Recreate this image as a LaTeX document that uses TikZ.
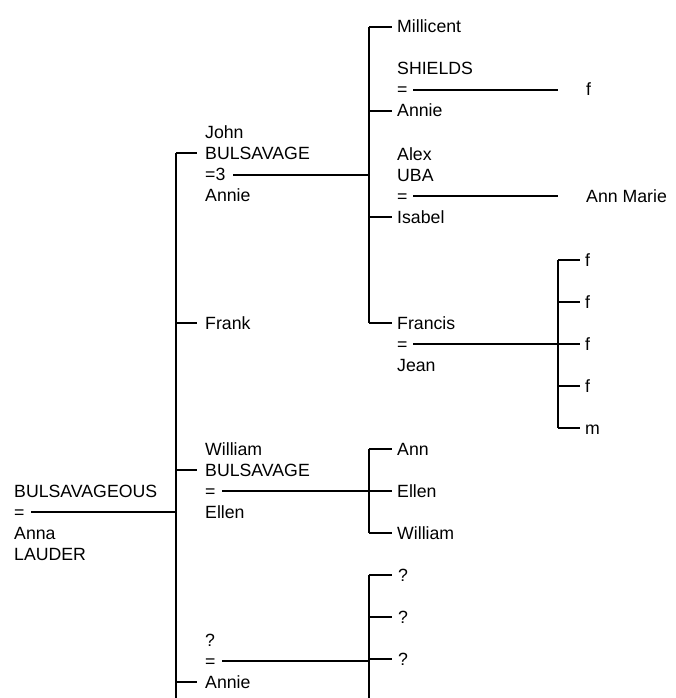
\documentclass[tikz,border=0pt]{standalone}
\usepackage{fontspec}
\setmainfont{Liberation Sans}
\begin{document}
\begin{tikzpicture}[x=1pt,y=-1pt,
  t/.style={anchor=base west,inner sep=0pt,font=\fontsize{17.7}{21}\selectfont},
  ln/.style={line width=1.2pt}]
\useasboundingbox (0,0) rectangle (675,698);
% ---- root couple
\node[t] (r1) at (14,497) {BULSAVAGEOUS};
\node[t] (r2) at (14,518) {=};
\node[t] (r3) at (14,539) {Anna};
\node[t] (r4) at (14,560) {LAUDER};
\coordinate (rm) at (31,512);
\coordinate (b1) at (176,512);
\coordinate (b1top) at (176,153);
\coordinate (b1bot) at (176,698);
\draw[ln] (rm) -- (b1);
\draw[ln] (b1top) -- (b1bot);
% ---- John
\node[t] (j1) at (205,138) {John};
\node[t] (j2) at (205,159) {BULSAVAGE};
\node[t] (j3) at (205,180) {=3};
\node[t] (j4) at (205,201) {Annie};
\coordinate (jc) at (197,153);
\draw[ln] (b1top) -- (jc);
\coordinate (jm) at (233,175);
\coordinate (bA) at (369,175);
\coordinate (bAtop) at (369,27);
\coordinate (bAbot) at (369,323);
\draw[ln] (jm) -- (bA);
\draw[ln] (bAtop) -- (bAbot);
% Millicent
\node[t] (mi) at (397,33) {Millicent};
\coordinate (mic) at (392,27);
\draw[ln] (bAtop) -- (mic);
% Shields / Annie
\node[t] (s1) at (397,75) {SHIELDS};
\node[t] (s2) at (397,96) {=};
\node[t] (s3) at (397,117) {Annie};
\coordinate (sA) at (369,111);
\coordinate (sc) at (392,111);
\draw[ln] (sA) -- (sc);
\coordinate (sm) at (413,90);
\coordinate (sme) at (558,90);
\draw[ln] (sm) -- (sme);
\node[t] (sf) at (586,96) {f};
% Alex / Isabel
\node[t] (a1) at (397,160) {Alex};
\node[t] (a2) at (397,181) {UBA};
\node[t] (a3) at (397,202) {=};
\node[t] (a4) at (397,223) {Isabel};
\coordinate (aA) at (369,217);
\coordinate (ac) at (392,217);
\draw[ln] (aA) -- (ac);
\coordinate (am) at (413,196);
\coordinate (ame) at (558,196);
\draw[ln] (am) -- (ame);
\node[t] (amr) at (586,202) {Ann Marie};
% Francis / Jean
\node[t] (f1) at (397,329) {Francis};
\node[t] (f2) at (397,350) {=};
\node[t] (f3) at (397,371) {Jean};
\coordinate (fc) at (392,323);
\draw[ln] (bAbot) -- (fc);
\coordinate (fm) at (413,344);
\coordinate (bC) at (558,344);
\draw[ln] (fm) -- (bC);
\coordinate (bCtop) at (558,260);
\coordinate (bCbot) at (558,428);
\draw[ln] (bCtop) -- (bCbot);
\coordinate (c1) at (580,260);
\coordinate (c2a) at (558,302); \coordinate (c2) at (580,302);
\coordinate (c3) at (580,344);
\coordinate (c4a) at (558,386); \coordinate (c4) at (580,386);
\coordinate (c5) at (580,428);
\draw[ln] (bCtop) -- (c1);
\draw[ln] (c2a) -- (c2);
\draw[ln] (bC) -- (c3);
\draw[ln] (c4a) -- (c4);
\draw[ln] (bCbot) -- (c5);
\node[t] (k1) at (585,266) {f};
\node[t] (k2) at (585,308) {f};
\node[t] (k3) at (585,350) {f};
\node[t] (k4) at (585,392) {f};
\node[t] (k5) at (585,434) {m};
% ---- Frank
\node[t] (fr) at (205,329) {Frank};
\coordinate (frA) at (176,323);
\coordinate (frc) at (197,323);
\draw[ln] (frA) -- (frc);
% ---- William
\node[t] (w1) at (205,455) {William};
\node[t] (w2) at (205,476) {BULSAVAGE};
\node[t] (w3) at (205,497) {=};
\node[t] (w4) at (205,518) {Ellen};
\coordinate (wA) at (176,470);
\coordinate (wc) at (197,470);
\draw[ln] (wA) -- (wc);
\coordinate (wm) at (222,491);
\coordinate (bW) at (369,491);
\draw[ln] (wm) -- (bW);
\coordinate (bWtop) at (369,449);
\coordinate (bWbot) at (369,533);
\draw[ln] (bWtop) -- (bWbot);
\coordinate (wc1) at (392,449);
\coordinate (wc2) at (392,491);
\coordinate (wc3) at (392,533);
\draw[ln] (bWtop) -- (wc1);
\draw[ln] (bW) -- (wc2);
\draw[ln] (bWbot) -- (wc3);
\node[t] (wk1) at (397,455) {Ann};
\node[t] (wk2) at (397,497) {Ellen};
\node[t] (wk3) at (397,539) {William};
% ---- ? / Annie
\node[t] (q1) at (205,646) {?};
\node[t] (q2) at (205,667) {=};
\node[t] (q3) at (205,688) {Annie};
\coordinate (qA) at (176,682);
\coordinate (qc) at (197,682);
\draw[ln] (qA) -- (qc);
\coordinate (qm) at (222,661);
\coordinate (bQ) at (369,661);
\draw[ln] (qm) -- (bQ);
\coordinate (bQtop) at (369,575);
\coordinate (bQbot) at (369,698);
\draw[ln] (bQtop) -- (bQbot);
\coordinate (qc1) at (392,575);
\coordinate (qc2a) at (369,617); \coordinate (qc2) at (392,617);
\coordinate (qc3a) at (369,659); \coordinate (qc3) at (392,659);
\draw[ln] (bQtop) -- (qc1);
\draw[ln] (qc2a) -- (qc2);
\draw[ln] (qc3a) -- (qc3);
\node[t] (qk1) at (398,581) {?};
\node[t] (qk2) at (398,623) {?};
\node[t] (qk3) at (398,665) {?};
\end{tikzpicture}
\end{document}
